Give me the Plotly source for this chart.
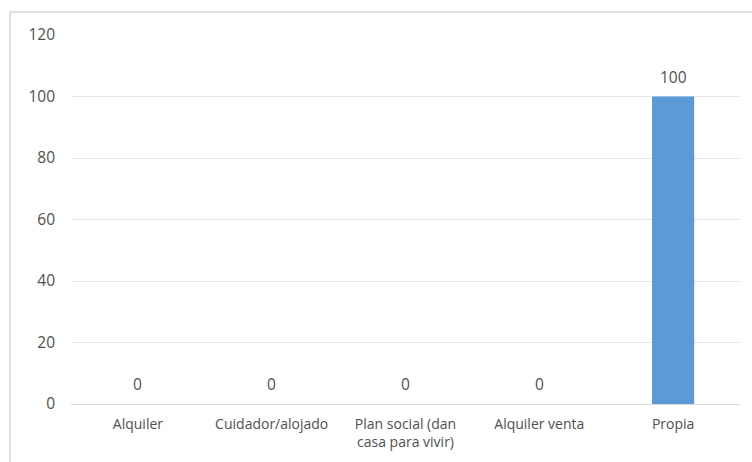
import plotly.graph_objects as go

categories = ["Alquiler", "Cuidador/alojado", "Plan social (dan<br>casa para vivir)", "Alquiler venta", "Propia"]
values = [0, 0, 0, 0, 100]
y_ticks = [0, 20, 40, 60, 80, 100, 120]

W, H = 752, 462
ml, mr, mt, mb = 71, 12, 35, 58
pw, ph = W - ml - mr, H - mt - mb
FONT = "Open Sans, Liberation Sans, sans-serif"

fig = go.Figure()
fig.add_trace(go.Bar(
    x=categories, y=values,
    marker=dict(color="#5B9BD5", line=dict(width=0)),
    width=0.315,
    hoverinfo="skip",
))

for c, v in zip(categories, values):
    fig.add_annotation(x=c, y=v, text=str(v), showarrow=False,
                       yshift=20, font=dict(size=15.5, color="#505050", family=FONT))

# outer chart border (extends beyond the visible crop on right/bottom)
fig.add_shape(type="rect", xref="paper", yref="paper",
              x0=(10 - ml) / pw, x1=1.2,
              y0=-0.5, y1=1 + (mt - 12) / ph,
              line=dict(color="#d9d9d9", width=1.5), layer="below")

fig.update_layout(
    width=W, height=H,
    margin=dict(l=ml, r=mr, t=mt, b=mb),
    paper_bgcolor="white", plot_bgcolor="white",
    showlegend=False,
    font=dict(family=FONT, color="#505050"),
    xaxis=dict(showgrid=False, showline=False, ticks="",
               ticklabelstandoff=10,
               tickfont=dict(size=14, color="#505050")),
    yaxis=dict(range=[0, 120], tickvals=y_ticks, showgrid=True,
               gridcolor="#e6e6e6", gridwidth=1.3, zeroline=True,
               zerolinecolor="#dadada", zerolinewidth=1.3, ticks="",
               ticklabelstandoff=15,
               tickfont=dict(size=15.5, color="#505050")),
)

fig.write_html("out.html")
